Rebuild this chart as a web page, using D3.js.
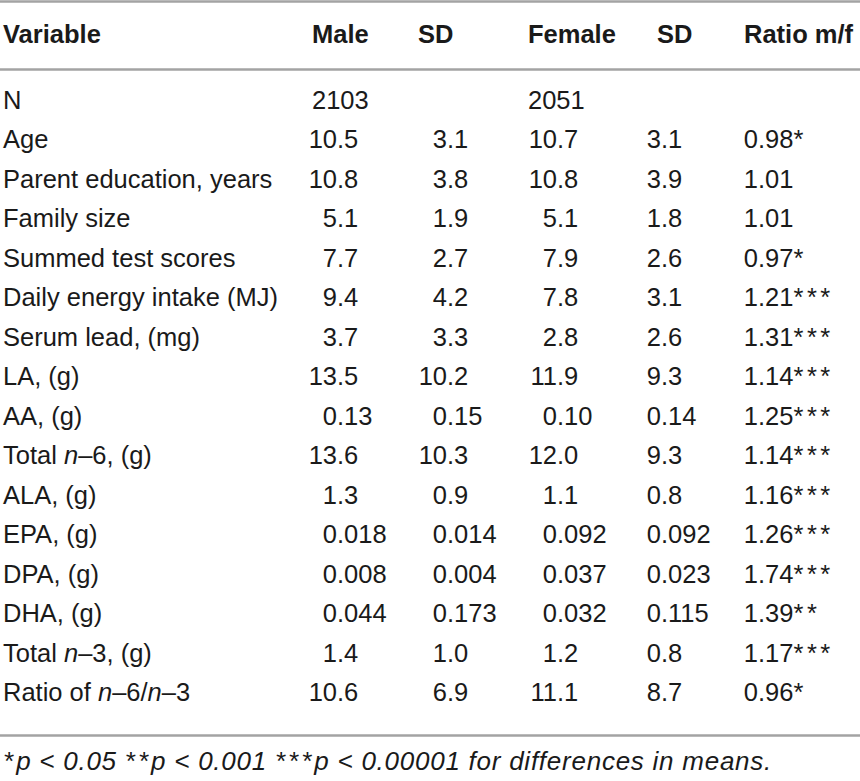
<!DOCTYPE html>
<html>
<head>
<meta charset="utf-8">
<script src="https://cdn.jsdelivr.net/npm/d3@7"></script>
<style>
  body { margin: 0; background: #fff; }
  text { font-family: "Liberation Sans", Arial, Helvetica, sans-serif; fill: #1a1a1a; }
</style>
</head>
<body>
<div id="chart"></div>
<script>
// table content
const columnLabels = ["Variable", "Male", "SD", "Female", "SD", "Ratio m/f"];

// variable names; "_n_" marks the italic n
const variables = [
    "N", "Age", "Parent education, years", "Family size", "Summed test scores",
    "Daily energy intake (MJ)", "Serum lead, (mg)", "LA, (g)", "AA, (g)",
    "Total _n_–6, (g)", "ALA, (g)", "EPA, (g)", "DPA, (g)", "DHA, (g)",
    "Total _n_–3, (g)", "Ratio of _n_–6/_n_–3"
];

const maleMean   = ["2103", "10.5", "10.8", "5.1", "7.7", "9.4", "3.7", "13.5", "0.13", "13.6", "1.3", "0.018", "0.008", "0.044", "1.4", "10.6"];
const maleSD     = ["", "3.1", "3.8", "1.9", "2.7", "4.2", "3.3", "10.2", "0.15", "10.3", "0.9", "0.014", "0.004", "0.173", "1.0", "6.9"];
const femaleMean = ["2051", "10.7", "10.8", "5.1", "7.9", "7.8", "2.8", "11.9", "0.10", "12.0", "1.1", "0.092", "0.037", "0.032", "1.2", "11.1"];
const femaleSD   = ["", "3.1", "3.9", "1.8", "2.6", "3.1", "2.6", "9.3", "0.14", "9.3", "0.8", "0.092", "0.023", "0.115", "0.8", "8.7"];
const ratioMF    = ["", "0.98*", "1.01", "1.01", "0.97*", "1.21***", "1.31***", "1.14***", "1.25***", "1.14***", "1.16***", "1.26***", "1.74***", "1.39**", "1.17***", "0.96*"];

// footnote pieces: [text, is stars]
const footnoteParts = [
    ["*", 1], ["p < 0.05 ", 0], ["**", 1], ["p < 0.001 ", 0], ["***", 1], ["p < 0.00001 for differences in means.", 0]
];

const width = 860, height = 781;
const fontSize = 25.5;

const svg = d3.select("#chart").append("svg")
    .attr("width", width)
    .attr("height", height);

// column anchors: header left edge and decimal point position
const headerX = [3, 312, 418, 528, 657, 744];
const decimalX = [null, 337, 447, 557, 661, 758];

// row baselines
const y = d3.scalePoint()
    .domain(d3.range(variables.length))
    .range([109, 701]);

// rules
const rules = [1.5, 69.5, 735.5];
svg.selectAll("line.rule")
    .data(rules)
    .enter().append("line")
    .attr("class", "rule")
    .attr("x1", 0).attr("x2", width)
    .attr("y1", d => d).attr("y2", d => d)
    .attr("stroke", "#a3a3a3")
    .attr("stroke-width", 2.5);

// header
svg.selectAll("text.header")
    .data(columnLabels)
    .enter().append("text")
    .attr("class", "header")
    .attr("x", (d, i) => headerX[i])
    .attr("y", 43)
    .style("font-size", fontSize + "px")
    .style("font-weight", "bold")
    .text(d => d);

// variable names with italic n
const names = svg.selectAll("text.name")
    .data(variables)
    .enter().append("text")
    .attr("class", "name")
    .attr("x", headerX[0])
    .attr("y", (d, i) => y(i))
    .style("font-size", fontSize + "px");

names.each(function (d) {
    const parts = d.split("_");
    const t = d3.select(this);
    parts.forEach(function (p, k) {
        if (p === "") return;
        t.append("tspan")
            .style("font-style", k % 2 === 1 ? "italic" : "normal")
            .text(p);
    });
});

// numeric columns, aligned on the decimal point
const columns = [maleMean, maleSD, femaleMean, femaleSD, ratioMF];

columns.forEach(function (values, c) {
    const col = c + 1;
    const g = svg.append("g").attr("class", "col-" + col);
    values.forEach(function (v, i) {
        if (v === "") return;
        const dot = v.indexOf(".");
        if (dot === -1) {
            // plain counts sit at the column's left edge
            g.append("text")
                .attr("x", headerX[col])
                .attr("y", y(i))
                .style("font-size", fontSize + "px")
                .text(v);
            return;
        }
        g.append("text")
            .attr("x", decimalX[col])
            .attr("y", y(i))
            .attr("text-anchor", "end")
            .style("font-size", fontSize + "px")
            .text(v.slice(0, dot));
        const rest = v.slice(dot);
        const stars = rest.indexOf("*");
        const frac = g.append("text")
            .attr("x", decimalX[col])
            .attr("y", y(i))
            .style("font-size", fontSize + "px");
        if (stars === -1) {
            frac.text(rest);
        } else {
            frac.append("tspan").text(rest.slice(0, stars));
            frac.append("tspan")
                .attr("letter-spacing", 3.5)
                .text(rest.slice(stars));
        }
    });
});

// footnote
const foot = svg.append("text")
    .attr("x", 3)
    .attr("y", 770)
    .style("font-size", "26px")
    .style("font-style", "italic");

footnoteParts.forEach(function (p) {
    foot.append("tspan")
        .attr("letter-spacing", p[1] ? 3 : 0.75)
        .text(p[0]);
});
</script>
</body>
</html>
